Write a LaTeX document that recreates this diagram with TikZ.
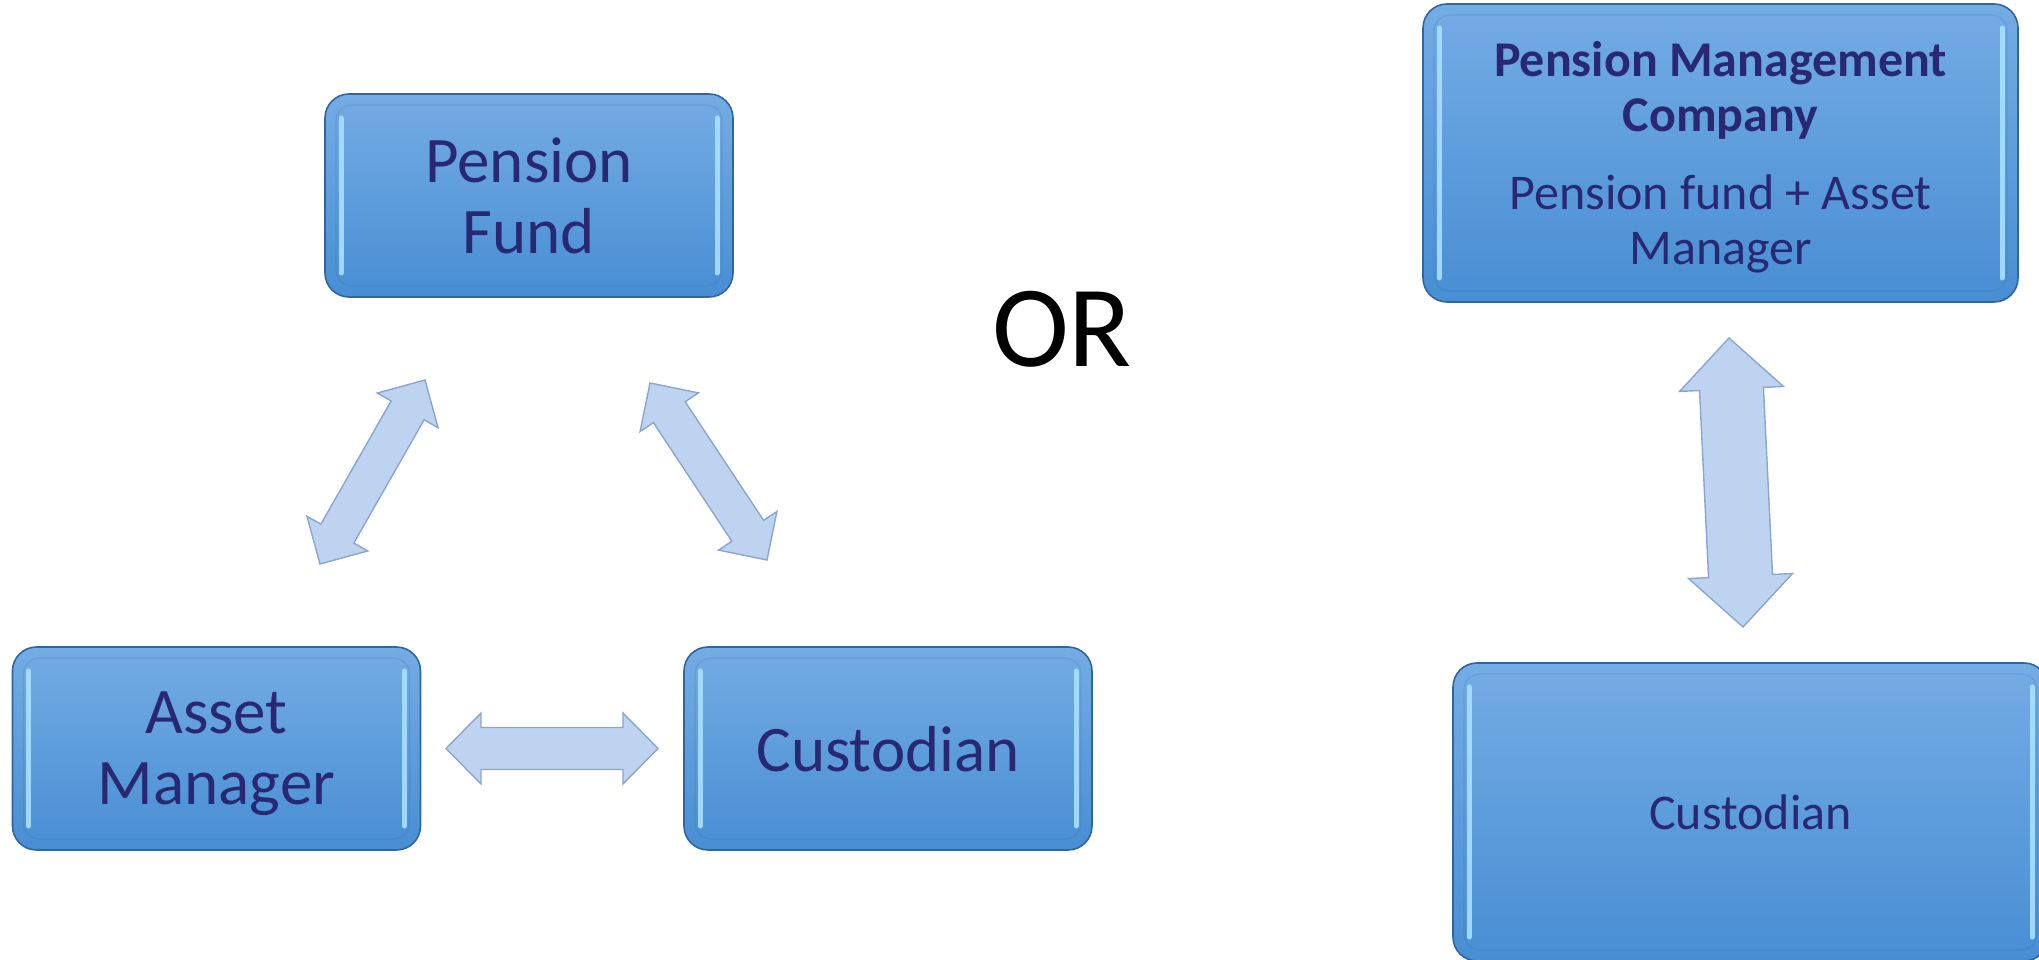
\documentclass[tikz,border=0pt]{standalone}
\usepackage{fontspec}
\setmainfont{Carlito}
\usetikzlibrary{calc}
\definecolor{boxtop}{RGB}{116,172,228}
\definecolor{boxbot}{RGB}{72,142,211}
\definecolor{boxline}{RGB}{50,100,158}
\definecolor{boxtext}{RGB}{40,40,115}
\definecolor{bevelhi}{RGB}{168,224,255}
\definecolor{arrowfill}{RGB}{189,211,240}
\definecolor{arrowline}{RGB}{138,165,208}
\newcommand{\mybigtext}{\fontsize{65}{71}\selectfont}
\newcommand{\mymidtext}{\fontsize{50}{55}\selectfont}
\newcommand{\myortext}{\fontsize{116}{120}\selectfont}
\tikzset{
  bevelbox/.style={draw=boxline, line width=1.6pt, rounded corners=24pt,
    top color=boxtop, bottom color=boxbot, text=boxtext, align=center,
    inner sep=0pt, text depth=0pt,
    path picture={
      \draw[bevelhi, line width=5pt, line cap=round, opacity=.9]
        ([xshift=16pt,yshift=-24pt]path picture bounding box.north west) --
        ([xshift=16pt,yshift=24pt]path picture bounding box.south west);
      \draw[bevelhi, line width=5pt, line cap=round, opacity=.9]
        ([xshift=-16pt,yshift=-24pt]path picture bounding box.north east) --
        ([xshift=-16pt,yshift=24pt]path picture bounding box.south east);
      \draw[boxline, opacity=.18, line width=1.2pt, rounded corners=16pt]
        ([shift={(11pt,-11pt)}]path picture bounding box.north west) rectangle
        ([shift={(-11pt,11pt)}]path picture bounding box.south east);
    }},
  smallbox/.style={bevelbox, minimum width=408pt, minimum height=203pt, font=\mybigtext},
  largebox/.style={bevelbox, minimum width=595pt, minimum height=298pt, font=\mymidtext},
  blockarrow/.style={fill=arrowfill, draw=arrowline, line width=1.4pt, line join=miter},
}
% #1 tip A, #2 tip B, #3 shaft half width, #4 head half width, #5 head length
\newcommand{\mydblarrow}[5]{%
  \coordinate (#1-b) at ($(#1)!#5!(#2)$);
  \coordinate (#2-b) at ($(#2)!#5!(#1)$);
  \filldraw[blockarrow] (#1) -- ($(#1-b)!#4!90:(#2)$) -- ($(#1-b)!#3!90:(#2)$)
    -- ($(#2-b)!#3!-90:(#1)$) -- ($(#2-b)!#4!-90:(#1)$) -- (#2)
    -- ($(#2-b)!#4!90:(#1)$) -- ($(#2-b)!#3!90:(#1)$)
    -- ($(#1-b)!#3!-90:(#2)$) -- ($(#1-b)!#4!-90:(#2)$) -- cycle;
}
\begin{document}
\begin{tikzpicture}[x=1pt,y=1pt]
\useasboundingbox (0,0) rectangle (2039,960);
\clip (0,0) rectangle (2039,960);
\fill[white] (0,0) rectangle (2039,960);

% boxes
\node[smallbox] (pf) at (529,764.5) {Pension\\Fund};
\node[smallbox] (am) at (216.5,211.5) {Asset\\Manager};
\node[smallbox] (cu) at (888,211.5) {Custodian};
\node[largebox] (pmc) at (1720.5,807) {\textbf{Pension Management}\\\textbf{Company}\\[23pt]Pension fund + Asset\\Manager};
\node[largebox] (cu2) at (1750.5,148) {Custodian};

% OR
\node[font=\myortext, text=black, anchor=base, inner sep=0pt] (or) at (1062,593) {OR};

% arrow tips
\coordinate (pfL) at (425,580);
\coordinate (amT) at (320,396);
\coordinate (pfR) at (650,577);
\coordinate (cuT) at (767,400);
\coordinate (amR) at (446,211.5);
\coordinate (cuL) at (658,211.5);
\coordinate (pmcB) at (1729,622);
\coordinate (cu2T) at (1743,333);

\mydblarrow{pfL}{amT}{19pt}{35pt}{35pt}
\mydblarrow{pfR}{cuT}{19pt}{35pt}{35pt}
\mydblarrow{amR}{cuL}{21pt}{35.5pt}{35pt}
\mydblarrow{pmcB}{cu2T}{32pt}{52pt}{51pt}
\end{tikzpicture}
\end{document}
